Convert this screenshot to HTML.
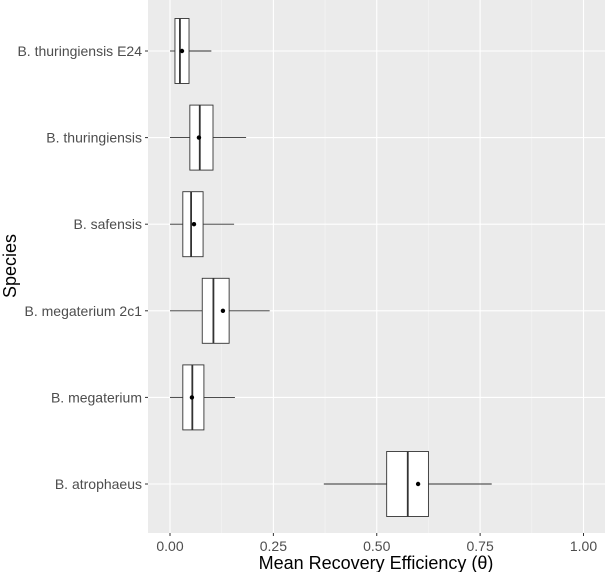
<!DOCTYPE html>
<html><head><meta charset="utf-8"><style>
body{margin:0;background:#fff;font-family:"Liberation Sans",Arial,sans-serif}
svg text{font-family:"Liberation Sans",Arial,sans-serif}
</style></head><body>
<svg id="chart" width="605" height="572" xmlns="http://www.w3.org/2000/svg">
<rect x="148" y="0" width="457" height="533" fill="#ebebeb"/>
<g id="grid"></g><g id="marks"></g><g id="axes"></g>
<text x="16" y="266" transform="rotate(-90 16 266)" text-anchor="middle" font-size="18" fill="#000">Species</text>
<text x="376" y="569" text-anchor="middle" font-size="18" fill="#000">Mean Recovery Efficiency (θ)</text>
</svg>
<script>
const categories=["B. thuringiensis E24","B. thuringiensis","B. safensis","B. megaterium 2c1","B. megaterium","B. atrophaeus"];
const lowWhisker=[0,0,0,0,0,0.372];
const q1=[0.012,0.048,0.031,0.078,0.031,0.524];
const median=[0.024,0.072,0.051,0.105,0.054,0.575];
const q3=[0.046,0.104,0.08,0.143,0.082,0.625];
const highWhisker=[0.10,0.184,0.155,0.241,0.157,0.778];
const means=[0.029,0.07,0.058,0.128,0.053,0.60];
const xTicks=[0,0.25,0.5,0.75,1];
const xTickLabels=["0.00","0.25","0.50","0.75","1.00"];
const NS="http://www.w3.org/2000/svg";
const xs=v=>170+v*413.5;
const ys=i=>51+i*86.6;
function mk(tag,attrs,parent){const e=document.createElementNS(NS,tag);for(const k in attrs)e.setAttribute(k,attrs[k]);parent.appendChild(e);return e;}
const grid=document.getElementById('grid'),marks=document.getElementById('marks'),axes=document.getElementById('axes');
for(let i=0;i<xTicks.length-1;i++){const v=(xTicks[i]+xTicks[i+1])/2;
 const g=mk('line',{x1:xs(v),x2:xs(v),y1:0,y2:533,stroke:'#f5f5f5','stroke-width':0.6},grid);
 
 }
xTicks.forEach((v,i)=>{
 const g=mk('line',{x1:xs(v),x2:xs(v),y1:0,y2:533,stroke:'#fff','stroke-width':1.1},grid);
 
 
 const t=mk('line',{x1:xs(v),x2:xs(v),y1:533,y2:536,stroke:'#333','stroke-width':1},axes);
 
 
 const l=mk('text',{x:xs(v),y:551,'text-anchor':'middle','font-size':14,fill:'#4d4d4d'},axes);
 l.textContent=xTickLabels[i];
 
 
});
categories.forEach((c,i)=>{
 const y=ys(i);
 const g=mk('line',{x1:148,x2:605,y1:y,y2:y,stroke:'#fff','stroke-width':1.1},grid);
 
 
 const t=mk('line',{x1:145,x2:148,y1:y,y2:y,stroke:'#333','stroke-width':1},axes);
 
 
 const l=mk('text',{x:142,y:y+5,'text-anchor':'end','font-size':14,fill:'#4d4d4d'},axes);
 l.textContent=c;
 
 
 const wl=mk('line',{x1:xs(lowWhisker[i]),x2:xs(q1[i]),y1:y,y2:y,stroke:'#333','stroke-width':0.9},marks);
 
 
 const wh=mk('line',{x1:xs(q3[i]),x2:xs(highWhisker[i]),y1:y,y2:y,stroke:'#333','stroke-width':0.9},marks);
 
 
 const b=mk('rect',{x:xs(q1[i]),y:y-32.5,width:xs(q3[i])-xs(q1[i]),height:65,fill:'#fff',stroke:'#333','stroke-width':0.9},marks);
 
 
 const m=mk('line',{x1:xs(median[i]),x2:xs(median[i]),y1:y-32.5,y2:y+32.5,stroke:'#333','stroke-width':1.8},marks);
 
 
 const d=mk('circle',{cx:xs(means[i]),cy:y,r:2.2,fill:'#000'},marks);
 
 
});
</script>
</body></html>
